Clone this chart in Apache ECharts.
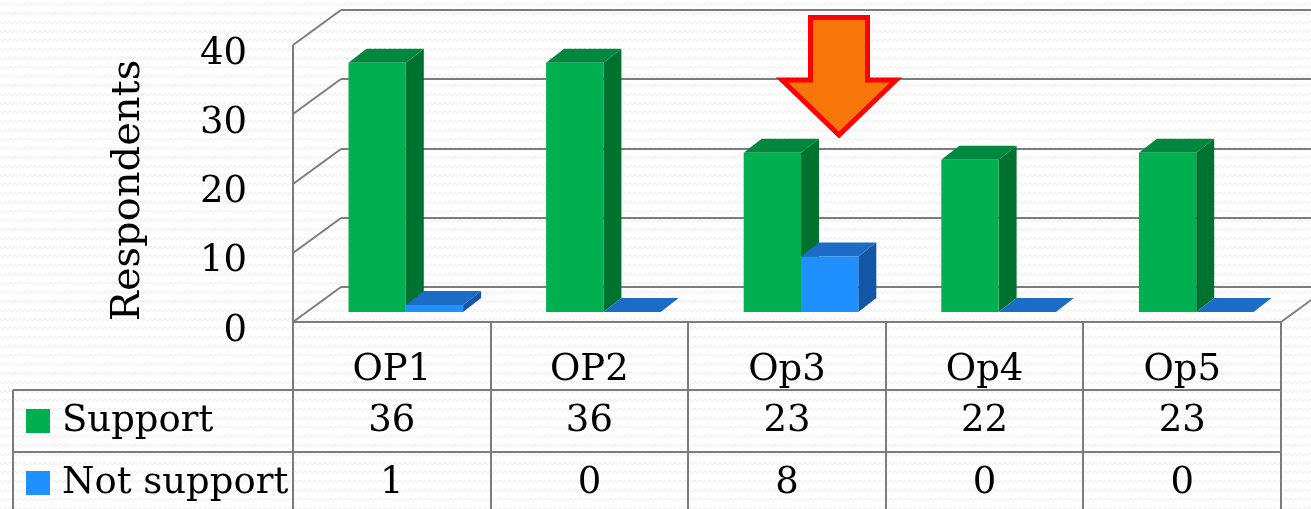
<!DOCTYPE html>
<html><head><meta charset="utf-8">
<script src="https://cdn.jsdelivr.net/npm/echarts@6/dist/echarts.min.js"></script>
<style>html,body{margin:0;padding:0;background:#fff}#c{width:1311px;height:509px}</style>
</head><body><div id="c"></div>
<script>
// ---- data ----
const categories = ['OP1', 'OP2', 'Op3', 'Op4', 'Op5'];
const support = [36, 36, 23, 22, 23];
const notSupport = [1, 0, 8, 0, 0];
const yTicks = [0, 10, 20, 30, 40];
const seriesNames = ['Support', 'Not support'];

// ---- style constants ----
const FONT = 'DejaVu Serif';
const FS = 37;
const LINE = '#7c7c7c';
const LW = 2;
const DEPTH = [48, -35];
const BAR_OFF = [14, -10];
const BAR_D = [18, -14];
const BAR_W_RATIO = 0.29;
const GREEN = { front: '#00B050', top: '#00893E', side: '#00722F' };
const BLUE = { front: '#1E90FF', top: '#1A6CC6', side: '#1257A6' };

// background zigzag pattern
const pat = document.createElement('canvas');
pat.width = 10; pat.height = 9;
(function () {
  const g = pat.getContext('2d');
  g.fillStyle = '#ffffff'; g.fillRect(0, 0, 10, 9);
  g.strokeStyle = '#ececec'; g.lineWidth = 1;
  g.beginPath(); g.moveTo(0, 3); g.lineTo(2.5, 6); g.lineTo(5, 3); g.lineTo(7.5, 6); g.lineTo(10, 3); g.stroke();
})();

function seg(x1, y1, x2, y2) {
  return { type: 'line', shape: { x1, y1, x2, y2 }, style: { stroke: LINE, lineWidth: LW } };
}

function bar3d(side, faces) {
  return function (params, api) {
    const i = api.value(0), v = api.value(1);
    const base = api.coord([i, 0]), top = api.coord([i, v]);
    const band = api.size([1, 0])[0];
    const w = band * BAR_W_RATIO;
    const x0 = base[0] + (side < 0 ? -w : 0) + BAR_OFF[0];
    const yb = base[1] + BAR_OFF[1], yt = top[1] + BAR_OFF[1];
    const dx = BAR_D[0], dy = BAR_D[1];
    return { type: 'group', children: [
      { type: 'polygon', shape: { points: [[x0 + w, yt], [x0 + w + dx, yt + dy], [x0 + w + dx, yb + dy], [x0 + w, yb]] }, style: { fill: faces.side } },
      { type: 'polygon', shape: { points: [[x0, yt], [x0 + w, yt], [x0 + w + dx, yt + dy], [x0 + dx, yt + dy]] }, style: { fill: faces.top } },
      { type: 'rect', shape: { x: x0, y: yt, width: w, height: Math.max(0, yb - yt) }, style: { fill: faces.front } }
    ] };
  };
}

function renderFrame(params, api) {
  const cs = params.coordSys;
  const L = cs.x, R = cs.x + cs.width, B = cs.y + cs.height;
  const H = api.getHeight();
  const ch = [];
  yTicks.forEach(t => {
    const y = Math.round(api.coord([0, t])[1]);
    ch.push(seg(L, y, L + DEPTH[0], y + DEPTH[1]));
    ch.push(seg(L + DEPTH[0], y + DEPTH[1], R + DEPTH[0], y + DEPTH[1]));
  });
  const yTop = Math.round(api.coord([0, yTicks[yTicks.length - 1]])[1]);
  ch.push(seg(L, yTop, L, H));
  ch.push(seg(L, B, R, B));
  ch.push(seg(R, B, R + DEPTH[0], B + DEPTH[1]));
  // table grid
  const band = cs.width / categories.length;
  for (let i = 1; i <= categories.length; i++) {
    const x = Math.round(L + i * band);
    ch.push(seg(x, B, x, H));
  }
  ch.push(seg(13, B + 68, R, B + 68));
  ch.push(seg(13, B + 130, R, B + 130));
  ch.push(seg(13, B + 68, 13, H));
  return { type: 'group', children: ch };
}

function renderTable(params, api) {
  const cs = params.coordSys;
  const B = cs.y + cs.height;
  const x = api.coord([api.value(0), 0])[0];
  const txt = (t, y) => ({ type: 'text', style: { text: String(t), x, y, align: 'center', verticalAlign: 'middle', font: FS + 'px "' + FONT + '"', fill: '#000' } });
  return { type: 'group', children: [txt(api.value(1), B + 99), txt(api.value(2), B + 161)] };
}

const chart = echarts.init(document.getElementById('c'), null, { renderer: 'canvas' });
chart.setOption({
  animation: false,
  backgroundColor: '#ffffff',
  graphic: [
    { type: 'rect', z: -100, silent: true, shape: { x: 0, y: 0, width: 1311, height: 509 }, style: { fill: { image: pat, repeat: 'repeat' } } },
    { type: 'polygon', z: 100, silent: true,
      shape: { points: [[810.5, 17.5], [867.5, 17.5], [867.5, 80], [896, 80], [839, 135], [782, 80], [810.5, 80]] },
      style: { fill: '#F7760A', stroke: '#FF0000', lineWidth: 5, lineJoin: 'miter' } }
  ],
  legend: {
    data: seriesNames, orient: 'vertical', left: 26, top: 396, itemGap: 12, padding: 0,
    itemWidth: 24, itemHeight: 24, icon: 'rect', selectedMode: false,
    textStyle: { fontFamily: FONT, fontSize: FS, color: '#000', lineHeight: 50, padding: [0, 0, 0, 7] }
  },
  grid: { left: 293, right: 30, top: 45, bottom: 187, containLabel: false },
  xAxis: {
    type: 'category', data: categories,
    axisLine: { show: false }, axisTick: { show: false }, splitLine: { show: false },
    axisLabel: { fontFamily: FONT, fontSize: FS, color: '#000', margin: 48, verticalAlign: 'middle' }
  },
  yAxis: {
    type: 'value', min: 0, max: 40, interval: 10,
    axisLine: { show: false }, axisTick: { show: false }, splitLine: { show: false },
    axisLabel: { fontFamily: FONT, fontSize: FS, color: '#000', margin: 46, verticalAlign: 'top', lineHeight: 18 },
    name: 'Respondents', nameLocation: 'middle', nameRotate: 90, nameGap: 144,
    nameTextStyle: { fontFamily: FONT, fontSize: 40, color: '#000', padding: [0, 14, 0, 0] }
  },
  series: [
    { type: 'custom', name: '_frame', z: 1, silent: true, clip: false, data: [[0, 0]], renderItem: renderFrame },
    { type: 'custom', name: 'Support', z: 2, clip: false, itemStyle: { color: GREEN.front },
      data: support.map((v, i) => [i, v]), encode: { x: 0, y: 1 }, renderItem: bar3d(-1, GREEN) },
    { type: 'custom', name: 'Not support', z: 3, clip: false, itemStyle: { color: BLUE.front },
      data: notSupport.map((v, i) => [i, v]), encode: { x: 0, y: 1 }, renderItem: bar3d(1, BLUE) },
    { type: 'custom', name: '_table', z: 4, silent: true, clip: false,
      data: categories.map((c, i) => [i, support[i], notSupport[i]]), encode: { x: 0, y: 1 }, renderItem: renderTable }
  ]
});
</script>
</body></html>
